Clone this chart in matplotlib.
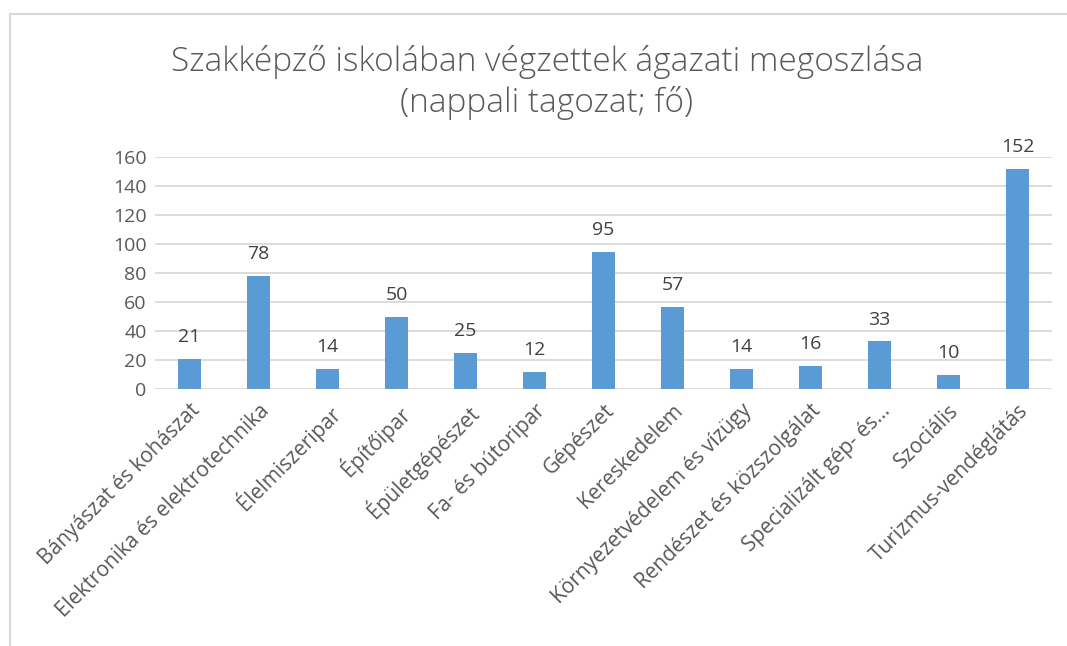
import matplotlib.pyplot as plt
from matplotlib.lines import Line2D

# data
categories = ['Bányászat és kohászat', 'Elektronika és elektrotechnika', 'Élelmiszeripar',
              'Építőipar', 'Épületgépészet', 'Fa- és bútoripar', 'Gépészet', 'Kereskedelem',
              'Környezetvédelem és vízügy', 'Rendészet és közszolgálat',
              'Specializált gép- és...', 'Szociális', 'Turizmus-vendéglátás']
values = [21, 78, 14, 50, 25, 12, 95, 57, 14, 16, 33, 10, 152]
yticks = [0, 20, 40, 60, 80, 100, 120, 140, 160]

plt.rcParams['font.family'] = ['Open Sans', 'DejaVu Sans']

fig = plt.figure(figsize=(10.67, 6.46), dpi=100)
ax = fig.add_axes([155 / 1067, 1 - 389 / 646, 897 / 1067, 231.5 / 646])

x = range(len(categories))
bars = ax.bar(x, values, width=0.32, color='#5B9BD5', zorder=3)
for b, v in zip(bars, values):
    ax.annotate(str(v), (b.get_x() + b.get_width() / 2, v), xytext=(0, 12),
                textcoords='offset points', ha='center', va='baseline',
                fontsize=14, color='#404040')

ax.set_xlim(-0.5, len(categories) - 0.5)
ax.set_ylim(0, 160)
ax.set_yticks(yticks)
ax.yaxis.grid(True, color='#D9D9D9', linewidth=1.3, zorder=0)
ax.tick_params(axis='both', length=0, colors='#595959', labelsize=14)
ax.tick_params(axis='y', pad=6)
ax.set_xticks(list(x))
ax.set_xticklabels(categories, rotation=45, ha='right', rotation_mode='anchor', fontsize=15)
ax.tick_params(axis='x', pad=8)
for s in ax.spines.values():
    s.set_visible(False)

fig.text(547 / 1067, 1 - 62 / 646, 'Szakképző iskolában végzettek ágazati megoszlása',
         ha='center', va='center', fontsize=24, color='#595959', fontweight='light')
fig.text(547 / 1067, 1 - 103 / 646, '(nappali tagozat; fő)',
         ha='center', va='center', fontsize=24, color='#595959', fontweight='light')

# chart frame (top and left edges visible)
fig.add_artist(Line2D([9.5 / 1067, 9.5 / 1067], [0, 1 - 14 / 646], transform=fig.transFigure,
                      color='#D9D9D9', linewidth=1.5))
fig.add_artist(Line2D([9.5 / 1067, 1], [1 - 14 / 646, 1 - 14 / 646], transform=fig.transFigure,
                      color='#D9D9D9', linewidth=1.5))

fig.savefig('out.png', dpi=100)
